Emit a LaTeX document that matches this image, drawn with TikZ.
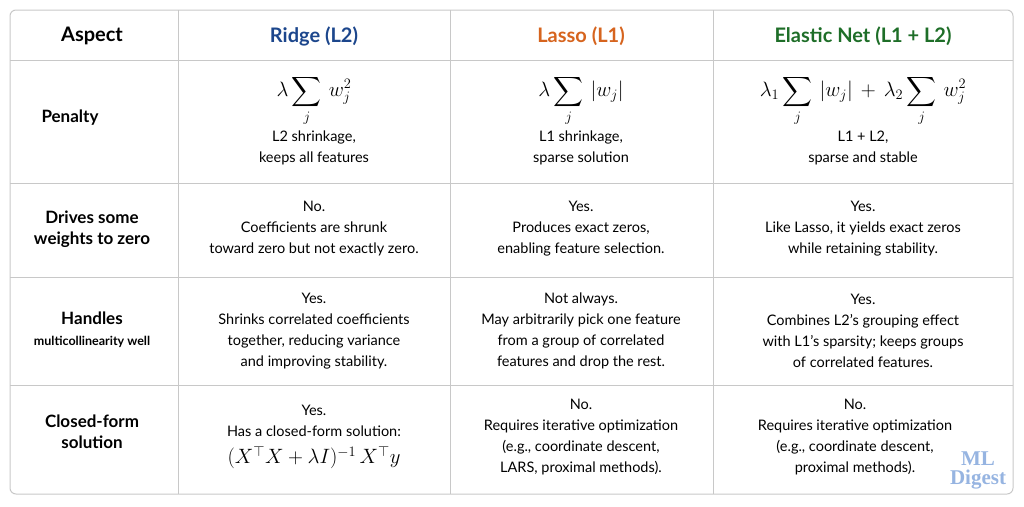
\documentclass[tikz,border=0pt]{standalone}
\usepackage{amsmath}
\usepackage{fontspec}
\setmainfont{Lato}
\usetikzlibrary{positioning,calc}
\definecolor{ridgeblue}{RGB}{28,70,140}
\definecolor{lassoorange}{RGB}{214,100,30}
\definecolor{elasticgreen}{RGB}{30,110,40}
\definecolor{gridgray}{RGB}{200,200,200}
\definecolor{wmblue}{RGB}{150,180,225}
\newcommand{\fml}{\fontsize{21}{24}\selectfont}
\tikzset{
  head/.style={font=\fontsize{20}{22}\selectfont\bfseries},
  aspect/.style={font=\fontsize{17}{21}\selectfont\bfseries,align=center},
  cell/.style={font=\fontsize{14.5}{21}\selectfont,align=center},
}
\begin{document}
\begin{tikzpicture}[x=1pt,y=-1pt]
\useasboundingbox (0,0) rectangle (1024,506);
% table frame and grid
\draw[gridgray,line width=1pt,rounded corners=6pt] (10,10) rectangle (1013,494);
\foreach \x in {178,450,713} \draw[gridgray,line width=1pt] (\x,10) -- (\x,494);
\foreach \y in {60,183,277,385} \draw[gridgray,line width=1pt] (10,\y) -- (1013,\y);

% header row
\node[head] (hasp) at (92,36) {Aspect};
\node[head,text=ridgeblue] (hridge) at (314,36) {Ridge (L2)};
\node[head,text=lassoorange] (hlasso) at (581,36) {Lasso (L1)};
\node[head,text=elasticgreen] (helastic) at (863,36) {Elastic Net (L1 + L2)};

% aspect column
\node[aspect] (apen) at (70,118) {Penalty};
\node[aspect] (azero) at (92,229) {Drives some\\weights to zero};
\node[aspect] (amulti) at (92,330) {Handles\\{\fontsize{12.5}{15}\selectfont multicollinearity well}};
\node[aspect] (aclosed) at (92,432) {Closed-form\\solution};

% penalty row
\node[cell] (pridge) at (314,120) {\fml$\displaystyle\lambda\sum_j\,w_j^2$\\[4pt]L2 shrinkage,\\keeps all features};
\node[cell] (plasso) at (581,120) {\fml$\displaystyle\lambda\sum_j\,|w_j|$\\[4pt]L1 shrinkage,\\sparse solution};
\node[cell] (pelastic) at (863,120) {\fml$\displaystyle\lambda_1\sum_j\,|w_j|\,+\,\lambda_2\sum_j\,w_j^2$\\[4pt]L1 + L2,\\sparse and stable};

% zero row
\node[cell] (zridge) at (314,229) {No.\\Coefficients are shrunk\\toward zero but not exactly zero.};
\node[cell] (zlasso) at (581,229) {Yes.\\Produces exact zeros,\\enabling feature selection.};
\node[cell] (zelastic) at (863,229) {Yes.\\Like Lasso, it yields exact zeros\\while retaining stability.};

% multicollinearity row
\node[cell] (mridge) at (314,331) {Yes.\\Shrinks correlated coefficients\\together, reducing variance\\and improving stability.};
\node[cell] (mlasso) at (581,331) {Not always.\\May arbitrarily pick one feature\\from a group of correlated\\features and drop the rest.};
\node[cell] (melastic) at (863,331) {Yes.\\Combines L2’s grouping effect\\with L1’s sparsity; keeps groups\\of correlated features.};

% closed-form row
\node[cell] (cridge) at (314,437) {Yes.\\Has a closed-form solution:\\[6pt]\fml$(X^{\top}X+\lambda I)^{-1}\,X^{\top}y$};
\node[cell] (classo) at (581,437) {No.\\Requires iterative optimization\\(e.g., coordinate descent,\\LARS, proximal methods).};
\node[cell] (celastic) at (855,437) {No.\\Requires iterative optimization\\(e.g., coordinate descent,\\proximal methods).};

% watermark
\node[text=wmblue,align=center,font=\fontspec{Liberation Serif}\bfseries\fontsize{21}{19}\selectfont] (wm) at (978,470) {ML\\Digest};
\end{tikzpicture}
\end{document}
